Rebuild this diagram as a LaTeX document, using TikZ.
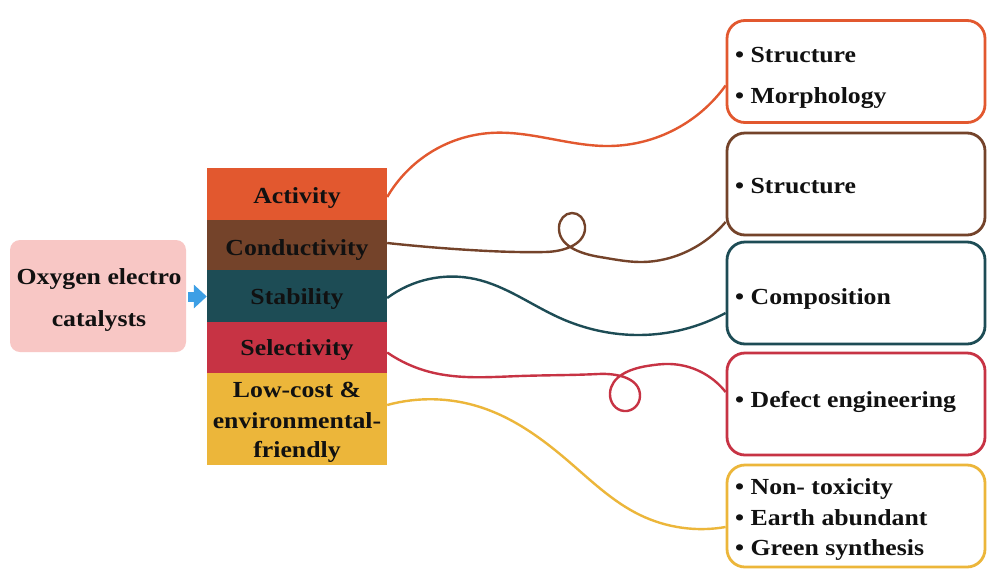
\documentclass[tikz,border=0pt]{standalone}
\usepackage{fontspec}
\setmainfont[FakeStretch=1.12]{Liberation Serif}
\usetikzlibrary{hobby,calc,arrows.meta}
\definecolor{cact}{HTML}{E2582F}
\definecolor{ccon}{HTML}{74432A}
\definecolor{csta}{HTML}{1D4C55}
\definecolor{csel}{HTML}{C73344}
\definecolor{clow}{HTML}{ECB63A}
\definecolor{cpink}{HTML}{F8C7C5}
\definecolor{carrow}{HTML}{3D9FE5}
\definecolor{ctxt}{HTML}{111111}
\begin{document}
\begin{tikzpicture}[x=1pt,y=-1pt,
  midbox/.style={minimum width=180pt, inner sep=0pt, draw=none},
  rbox/.style={minimum width=258pt, minimum height=102pt, rounded corners=18pt, line width=2.8pt, fill=white, inner sep=0pt},
  txt/.style={font=\fontsize{23}{28}\selectfont\bfseries, text=ctxt, inner sep=0pt},
  link/.style={line width=2.4pt, use Hobby shortcut}]
\useasboundingbox[fill=white] (0,0) rectangle (987,571);
% left box
\node[fill=cpink, rounded corners=10pt, minimum width=176pt, minimum height=112pt, inner sep=0pt] (oxy) at (98,296) {};
\node[txt, anchor=base] (oxy1) at (99,284) {Oxygen electro};
\node[txt, anchor=base] (oxy2) at (99,326) {catalysts};
% middle column
\node[midbox, fill=cact, minimum height=52pt] (act) at (297,194) {};
\node[midbox, fill=ccon, minimum height=50pt] (con) at (297,245) {};
\node[midbox, fill=csta, minimum height=52pt] (sta) at (297,296) {};
\node[midbox, fill=csel, minimum height=51pt] (sel) at (297,347.5) {};
\node[midbox, fill=clow, minimum height=92pt] (low) at (297,419) {};
\node[txt, anchor=base] (acttxt) at (297,203) {Activity};
\node[txt, anchor=base] (contxt) at (297,255) {Conductivity};
\node[txt, anchor=base] (statxt) at (297,304) {Stability};
\node[txt, anchor=base] (seltxt) at (297,355) {Selectivity};
\node[txt, anchor=base] (low1) at (297,397) {Low-cost \&};
\node[txt, anchor=base] (low2) at (297,428) {environmental-};
\node[txt, anchor=base] (low3) at (297,457) {friendly};
% arrow
\draw[carrow, line width=10pt, -{Triangle[width=23pt,length=13pt]}, shorten <=2pt] ($(oxy.east)+(0,0.5)$) -- ($(oxy.east -| act.west)+(0,0.5)$);
% right boxes
\node[rbox, draw=cact] (r1) at (856,71.5) {};
\node[rbox, draw=ccon] (r2) at (856,184) {};
\node[rbox, draw=csta] (r3) at (856,293) {};
\node[rbox, draw=csel] (r4) at (856,404) {};
\node[rbox, draw=clow] (r5) at (856,516) {};
\node[txt, anchor=base west] (r1a) at (735,62) {• Structure};
\node[txt, anchor=base west] (r1b) at (735,103) {• Morphology};
\node[txt, anchor=base west] (r2a) at (735,193) {• Structure};
\node[txt, anchor=base west] (r3a) at (735,304) {• Composition};
\node[txt, anchor=base west] (r4a) at (735,407) {• Defect engineering};
\node[txt, anchor=base west] (r5a) at (735,494) {• Non- toxicity};
\node[txt, anchor=base west] (r5b) at (735,525) {• Earth abundant};
\node[txt, anchor=base west] (r5c) at (735,555) {• Green synthesis};
% connectors
\coordinate (e1) at ($(r1.west)+(0,14)$);
\coordinate (e2) at ($(r2.west)+(0,38)$);
\coordinate (e3) at ($(r3.west)+(0,20)$);
\coordinate (e4) at ($(r4.west)+(0,-12)$);
\coordinate (e5) at ($(r5.west)+(0,11)$);
\coordinate (s1) at ($(act.east)+(0,3)$);
\coordinate (s2) at ($(con.east)+(0,-2)$);
\coordinate (s3) at ($(sta.east)+(0,2)$);
\coordinate (s4) at ($(sel.east)+(0,5)$);
\coordinate (s5) at ($(low.east)+(0,-14)$);
\draw[link, draw=cact] (s1) .. (490,133) .. (610,146) .. (e1);
\draw[link, draw=ccon] (s2) .. (470,250) .. (545,252) .. (585,226) .. (572,213) .. (559,227) .. (600,257) .. (640,262) .. (690,250) .. (e2);
\draw[link, draw=csta] (s3) .. (475,279) .. (560,318) .. (640,335) .. (e3);
\draw[link, draw=csel] (s4) .. (430,372) .. (520,376) .. (598,374) .. (640,396) .. (624,411) .. (610,393) .. (647,366) .. (670,364) .. (e4);
\draw[link, draw=clow] (s5) .. (480,407) .. (567,460) .. (640,515) .. (e5);
\end{tikzpicture}
\end{document}
